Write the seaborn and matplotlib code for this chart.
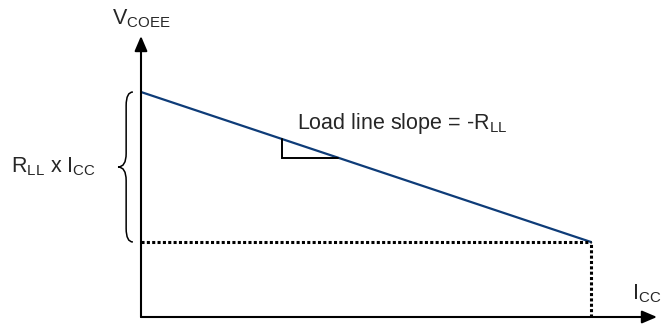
import numpy as np
import pandas as pd
import matplotlib
matplotlib.use("Agg")
import matplotlib.pyplot as plt
from matplotlib.path import Path
from matplotlib.patches import PathPatch
import seaborn as sns

# ---- data (schematic load line) ----
icc = [0.0, 10.0]          # current axis values (arbitrary units)
vcoee = [1.5, 0.5]         # voltage at no load and at full load
slope_marker_i = [3.13, 4.38]  # horizontal extent of slope triangle

x_label = "I$_{\\mathrm{CC}}$"
y_label = "V$_{\\mathrm{COEE}}$"
brace_label = "R$_{\\mathrm{LL}}$ x I$_{\\mathrm{CC}}$"
slope_label = "Load line slope = -R$_{\\mathrm{LL}}$"

sns.set_theme(style="white")
plt.rcParams["font.family"] = ["Liberation Sans", "DejaVu Sans"]
plt.rcParams["mathtext.fontset"] = "custom"
plt.rcParams["mathtext.rm"] = "Liberation Sans"
plt.rcParams["mathtext.it"] = "Liberation Sans:italic"
plt.rcParams["mathtext.bf"] = "Liberation Sans:bold"

W, H = 661, 325
fig = plt.figure(figsize=(W / 100, H / 100), dpi=100)
# axes frame: origin at pixel (141, 317), arrow tips at x=657, y=36
ax = fig.add_axes([141 / W, (H - 317) / H, (657 - 141) / W, (317 - 36) / H])
ax.set_xlim(0, 516 / 45)
ax.set_ylim(0, 281 / 150)
for s in ax.spines.values():
    s.set_visible(False)
ax.set_xticks([])
ax.set_yticks([])
ax.patch.set_alpha(0)

df = pd.DataFrame({"I": icc, "V": vcoee})
sns.lineplot(data=df, x="I", y="V", ax=ax, color="#0e3c78", lw=1.6)

# dotted reference lines
ax.plot([icc[0], icc[1]], [vcoee[1], vcoee[1]], color="black", lw=2.2,
        linestyle=(0, (1, 0.75)), dash_capstyle="butt", clip_on=False)
ax.plot([icc[1], icc[1]], [0, vcoee[1]], color="black", lw=2.2,
        linestyle=(0, (1, 0.75)), dash_capstyle="butt", clip_on=False)

# axes arrows
arrow_kw = dict(arrowstyle="-|>,head_length=0.75,head_width=0.32", color="black",
                lw=1.5, shrinkA=0, shrinkB=0)
ax.annotate("", xy=(0, 1), xytext=(0, 0), xycoords="axes fraction",
            textcoords="axes fraction", arrowprops=arrow_kw)
ax.annotate("", xy=(1, 0), xytext=(0, 0), xycoords="axes fraction",
            textcoords="axes fraction", arrowprops=arrow_kw)

# slope triangle
slope = (vcoee[1] - vcoee[0]) / (icc[1] - icc[0])
def v_at(i):
    return vcoee[0] + slope * (i - icc[0])
ia, ib = slope_marker_i
ax.plot([ia, ia, ib], [v_at(ia), v_at(ib), v_at(ib)], color="black", lw=1.4,
        solid_joinstyle="miter")

# curly brace to the left of the y axis
top, bot = vcoee[0], vcoee[1]
mid = (top + bot) / 2
x_end, x_mid, x_tip = -0.18, -0.33, -0.51
r = 0.09
verts = [
    (x_end, top), (x_mid, top), (x_mid, top - r),
    (x_mid, mid + r),
    (x_mid, mid), (x_tip, mid),
    (x_mid, mid), (x_mid, mid - r),
    (x_mid, bot + r),
    (x_mid, bot), (x_end, bot),
]
codes = [Path.MOVETO, Path.CURVE3, Path.CURVE3, Path.LINETO,
         Path.CURVE3, Path.CURVE3, Path.CURVE3, Path.CURVE3,
         Path.LINETO, Path.CURVE3, Path.CURVE3]
ax.add_patch(PathPatch(Path(verts, codes), fill=False, lw=1.1, color="black",
                       clip_on=False))

fs = 15.5
ax.text(x_tip - 0.5, mid, brace_label, ha="right", va="center", fontsize=fs)
ax.text(0.0, 1.0 + 0.02, y_label, transform=ax.transAxes, ha="center",
        va="bottom", fontsize=fs)
ax.text(icc[1] + 0.9, 0.08, x_label, ha="left", va="bottom", fontsize=fs)
ax.text(ia + 0.33, v_at(ia) + 0.02, slope_label, ha="left", va="bottom",
        fontsize=fs)

fig.savefig("out.png", dpi=100)
